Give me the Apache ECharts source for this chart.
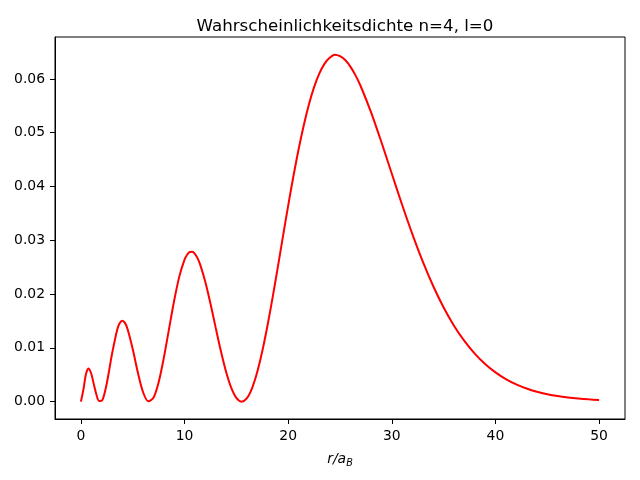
<!DOCTYPE html>
<html><head><meta charset="utf-8">
<script src="https://cdn.jsdelivr.net/npm/echarts@6/dist/echarts.min.js"></script>
<style>html,body{margin:0;padding:0;background:#fff}#c{width:640px;height:480px}</style>
</head><body><div id="c"></div>
<script>
var rValues = [0,0.25,0.5,0.75,1,1.25,1.5,1.75,2,2.25,2.5,2.75,3,3.5,3.75,4,4.25,4.5,5,5.5,6,6.5,7,7.5,8,8.5,9,9.5,10,10.25,10.5,10.75,11,11.25,11.5,12,12.5,13,13.5,14,14.5,15,15.5,16,16.5,17,17.5,18,18.5,19,19.5,20,20.5,21,21.5,22,22.5,23,23.5,24,24.5,25,25.5,26,26.5,27,28,29,30,31,32,33,34,35,36,37,38,39,40,41,42,43,44,45,46,47,48,49,50];
var density = [0,0.00232,0.00523,0.00618,0.00518,0.00321,0.00128,0.00014,0.00016,0.00134,0.00343,0.00608,0.00886,0.01337,0.01462,0.01504,0.01464,0.01352,0.00977,0.00535,0.00175,0.00006,0.00073,0.00361,0.00814,0.01349,0.01880,0.02329,0.02639,0.02732,0.02781,0.02785,0.02747,0.02668,0.02553,0.02231,0.01824,0.01380,0.00945,0.00560,0.00260,0.00069,0.0,0.00060,0.00244,0.00541,0.00936,0.01410,0.01939,0.02502,0.03077,0.03645,0.04187,0.04688,0.05136,0.05526,0.05848,0.06099,0.06280,0.06392,0.06452,0.06423,0.06351,0.06230,0.06066,0.05864,0.05379,0.04822,0.04238,0.03657,0.03106,0.02599,0.02146,0.01751,0.01412,0.01128,0.00892,0.00699,0.00543,0.00419,0.00321,0.00244,0.00184,0.00138,0.00103,0.00077,0.00057,0.00042,0.00031];
var xTicks = [0,10,20,30,40,50];
var yTicks = [0,0.01,0.02,0.03,0.04,0.05,0.06];
var titleText = 'Wahrscheinlichkeitsdichte n=4, l=0';

var pts = rValues.map(function(r,i){return [r, density[i]];});
var font = 'DejaVu Sans';
var X_MIN = -2.5, X_MAX = 52.5, Y_MIN = -0.00323, Y_MAX = 0.0678;
var chart = echarts.init(document.getElementById('c'), null, {renderer:'canvas'});
chart.setOption({
  animation:false,
  backgroundColor:'#fff',
  title:{text:titleText, left:340, top:13, textAlign:'center',
    textStyle:{fontFamily:font, fontSize:16.67, fontWeight:'normal', color:'#000'}},
  grid:{left:55, right:15, top:37, bottom:61, show:true, borderColor:'#000', borderWidth:1, backgroundColor:'transparent'},
  xAxis:{type:'value', min:X_MIN, max:X_MAX,
    axisLine:{show:true, onZero:false, lineStyle:{color:'#000', width:1}}, splitLine:{show:false},
    axisTick:{show:true, inside:false, length:5, lineStyle:{color:'#000', width:1}, customValues:xTicks},
    axisLabel:{color:'#000', fontFamily:font, fontSize:13.9, margin:10, customValues:xTicks},
    name:'{i|r}{n|/}{i|a}{s|B}', nameLocation:'middle', nameGap:31,
    nameTextStyle:{rich:{
      i:{fontFamily:font, fontStyle:'italic', fontSize:13.9, color:'#000'},
      n:{fontFamily:font, fontStyle:'italic', fontSize:13.9, color:'#000'},
      s:{fontFamily:font, fontStyle:'italic', fontSize:9.7, color:'#000', padding:[8,0,0,0]}
    }}
  },
  yAxis:{type:'value', min:Y_MIN, max:Y_MAX,
    axisLine:{show:true, onZero:false, lineStyle:{color:'#000', width:1}}, splitLine:{show:false},
    axisTick:{show:true, inside:false, length:5, lineStyle:{color:'#000', width:1}, customValues:yTicks},
    axisLabel:{color:'#000', fontFamily:font, fontSize:13.9, margin:10, customValues:yTicks,
      formatter:function(v){return v.toFixed(2);}}
  },
  series:[{type:'line', data:pts, showSymbol:false, smooth:0.3,
    lineStyle:{color:'#ff0000', width:2}, itemStyle:{color:'#ff0000'}}]
});
</script></body></html>
